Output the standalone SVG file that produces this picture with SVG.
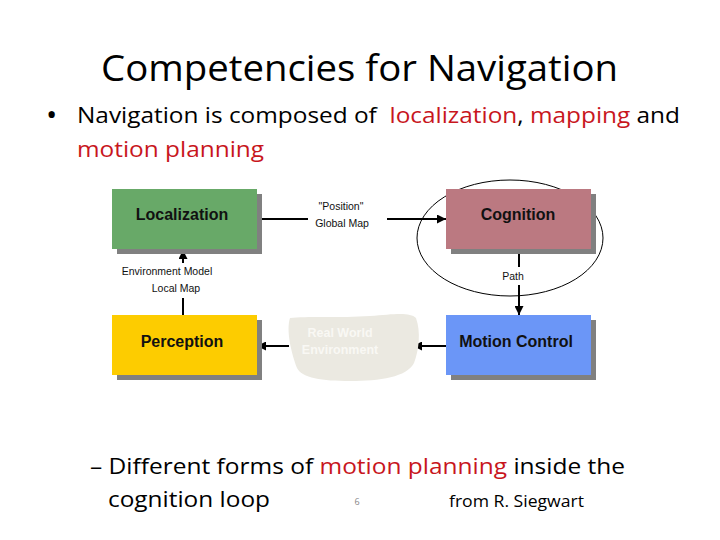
<svg xmlns="http://www.w3.org/2000/svg" width="720" height="540" viewBox="0 0 720 540">
<defs>
<style>
.slide{font-family:"Open Sans","Noto Sans","Liberation Sans",sans-serif;fill:#000}
.red{fill:#c8161d}
.box{stroke:none}
.shadow{fill:#808080}
.lbl{font-family:"Liberation Sans",Arial,sans-serif;font-weight:bold;font-size:16px;fill:#111;text-anchor:middle}
.small{font-family:"Liberation Sans",Arial,sans-serif;font-size:10.5px;fill:#111;text-anchor:middle}
.conn{stroke:#000;stroke-width:2;fill:none}
</style>
<marker id="ah" viewBox="0 0 10 10" refX="10" refY="5" markerWidth="5" markerHeight="4.5" orient="auto" markerUnits="strokeWidth">
<path d="M0,0 L10,5 L0,10 Z" fill="#000"/>
</marker>
</defs>
<rect width="720" height="540" fill="#fff"/>

<text class="slide" x="101" y="81" font-size="36" textLength="517" lengthAdjust="spacingAndGlyphs">Competencies for Navigation</text>
<text class="slide" x="46" y="125" font-size="30">•</text>
<text class="slide" x="77" y="123" font-size="22" textLength="603" lengthAdjust="spacingAndGlyphs">Navigation is composed of&#160; <tspan class="red">localization</tspan>, <tspan class="red">mapping</tspan> and</text>
<text class="slide red" x="77" y="157" font-size="22" textLength="187" lengthAdjust="spacingAndGlyphs">motion planning</text>

<g id="ellipse-loop"><ellipse cx="510" cy="238" rx="93" ry="58" fill="none" stroke="#000" stroke-width="1"/></g>

<g id="connectors">
<line class="conn" x1="258" y1="219" x2="308" y2="219"/>
<line class="conn" x1="387" y1="219" x2="446" y2="219" marker-end="url(#ah)"/>
<line class="conn" x1="519" y1="253" x2="519" y2="267"/>
<line class="conn" x1="519" y1="285" x2="519" y2="315" marker-end="url(#ah)"/>
<line class="conn" x1="183" y1="315" x2="183" y2="298"/>
<line class="conn" x1="183" y1="263" x2="183" y2="250" marker-end="url(#ah)"/>
<line class="conn" x1="446" y1="346" x2="413" y2="346" marker-end="url(#ah)"/>
<line class="conn" x1="289" y1="346" x2="257" y2="346" marker-end="url(#ah)"/>
</g>

<g id="localization">
<rect class="shadow" x="117" y="194" width="145" height="60"/>
<rect class="box" x="112" y="189" width="145" height="60" fill="#68a968"/>
<text class="lbl" x="182" y="220">Localization</text>
</g>

<g id="cognition">
<rect class="shadow" x="451" y="194" width="145" height="60"/>
<rect class="box" x="446" y="189" width="145" height="60" fill="#bb7981"/>
<text class="lbl" x="518" y="220">Cognition</text>
</g>

<g id="perception">
<rect class="shadow" x="117" y="320" width="145" height="60"/>
<rect class="box" x="112" y="315" width="145" height="60" fill="#fdcc00"/>
<text class="lbl" x="182" y="347">Perception</text>
</g>

<g id="motion-control">
<rect class="shadow" x="451" y="320" width="145" height="60"/>
<rect class="box" x="446" y="315" width="145" height="60" fill="#6b96f7"/>
<text class="lbl" x="516" y="347">Motion Control</text>
</g>

<g id="real-world">
<path d="M290,318 C305,316 340,318 370,316 C395,314 410,312 416,318 C421,332 419,350 414,363 C407,377 380,381 350,381 C322,381 302,378 297,368 C291,352 286,330 290,318 Z" fill="#ebe9e1"/>
<text x="340" y="337" font-family="Liberation Sans,Arial,sans-serif" font-weight="bold" font-size="12.5" fill="#f9f8f4" text-anchor="middle">Real World</text>
<text x="340" y="354" font-family="Liberation Sans,Arial,sans-serif" font-weight="bold" font-size="12.5" fill="#f9f8f4" text-anchor="middle">Environment</text>
</g>

<g id="labels">
<text class="small" x="341" y="210">"Position"</text>
<text class="small" x="342" y="227">Global Map</text>
<text class="small" x="513" y="280">Path</text>
<text class="small" x="167" y="275">Environment Model</text>
<text class="small" x="176" y="292">Local Map</text>
</g>

<text class="slide" x="90" y="474" font-size="22" textLength="535" lengthAdjust="spacingAndGlyphs">– Different forms of <tspan class="red">motion planning</tspan> inside the</text>
<text class="slide" x="108" y="507" font-size="22" textLength="162" lengthAdjust="spacingAndGlyphs">cognition loop</text>
<text x="357" y="505" font-family="Open Sans,sans-serif" font-size="9" fill="#888" text-anchor="middle">6</text>
<text class="slide" x="449" y="507" font-size="17" textLength="135" lengthAdjust="spacingAndGlyphs">from R. Siegwart</text>
</svg>
